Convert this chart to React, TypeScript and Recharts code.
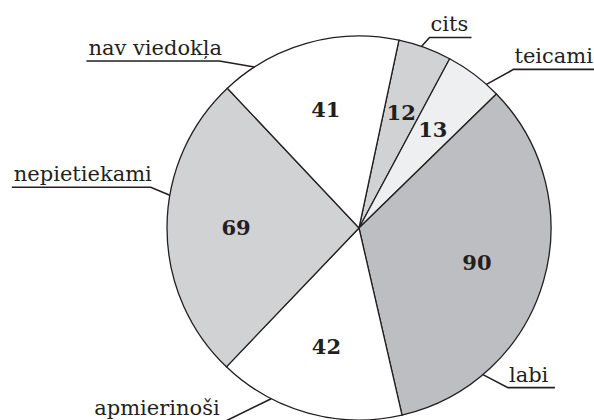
import { PieChart, Pie, Cell } from 'recharts';

// clockwise from the "cits" slice
const categories = ['cits', 'teicami', 'labi', 'apmierinoši', 'nepietiekami', 'nav viedokļa'];
const counts = [12, 13, 90, 42, 69, 41];
const fills = ['#d1d2d4', '#eeeff0', '#bdbec1', '#ffffff', '#d1d2d4', '#ffffff'];

const data = categories.map((name, i) => ({ name, value: counts[i] }));

// callout layout: where the leader touches the rim (deg clockwise from top),
// elbow offset from that point, underline length and which way it runs
const CALLOUTS: Record<string, { angle: number; dx: number; dy: number; len: number; side: 'left' | 'right' }> = {
  'cits': { angle: 19, dx: 8, dy: -9, len: 42, side: 'right' },
  'teicami': { angle: 41.6, dx: 27, dy: -15, len: 81, side: 'right' },
  'labi': { angle: 139.8, dx: 25, dy: 13, len: 47, side: 'right' },
  'apmierinoši': { angle: 207.2, dx: -45, dy: 22, len: 134, side: 'left' },
  'nepietiekami': { angle: 279.8, dx: -19, dy: -8, len: 139, side: 'left' },
  'nav viedokļa': { angle: 327, dx: -35, dy: -6, len: 133, side: 'left' },
};

const INK = '#231f20';
const FONT = '"DejaVu Serif", serif';
const RAD = Math.PI / 180;

const renderLabel = (p: any) => {
  const { cx, cy, midAngle, outerRadius, index } = p;
  const name = categories[index];
  const r = outerRadius * 0.64;
  const x = cx + r * Math.cos(-midAngle * RAD);
  const y = cy + r * Math.sin(-midAngle * RAD);

  const c = CALLOUTS[name];
  const tx = cx + outerRadius * Math.sin(c.angle * RAD);
  const ty = cy - outerRadius * Math.cos(c.angle * RAD);
  const ex = tx + c.dx;
  const ey = ty + c.dy;
  const endX = c.side === 'right' ? ex + c.len : ex - c.len;
  const textX = c.side === 'right' ? ex + 1 : endX + 2;

  return (
    <g>
      <text x={x} y={y} textAnchor="middle" dominantBaseline="central"
        fontFamily={FONT} fontWeight="bold" fontSize={21} fill={INK}>
        {counts[index]}
      </text>
      <polyline points={`${tx},${ty} ${ex},${ey} ${endX},${ey}`} fill="none" stroke={INK} strokeWidth={1.6} />
      <text x={textX} y={ey - 6} textAnchor="start" fontFamily={FONT} fontSize={21} fill={INK}>
        {name}
      </text>
    </g>
  );
};

export default function App() {
  return (
    <div style={{ position: 'absolute', left: 0, top: 0, background: '#fff' }}>
      <PieChart width={594} height={420} margin={{ top: 0, right: 0, bottom: 0, left: 0 }}>
        <Pie
          data={data}
          dataKey="value"
          nameKey="name"
          cx={359}
          cy={228}
          outerRadius={192}
          startAngle={78}
          endAngle={-282}
          stroke={INK}
          strokeWidth={1.3}
          label={renderLabel}
          labelLine={false}
          isAnimationActive={false}
        >
          {data.map((d, i) => (
            <Cell key={d.name} fill={fills[i]} />
          ))}
        </Pie>
      </PieChart>
    </div>
  );
}
